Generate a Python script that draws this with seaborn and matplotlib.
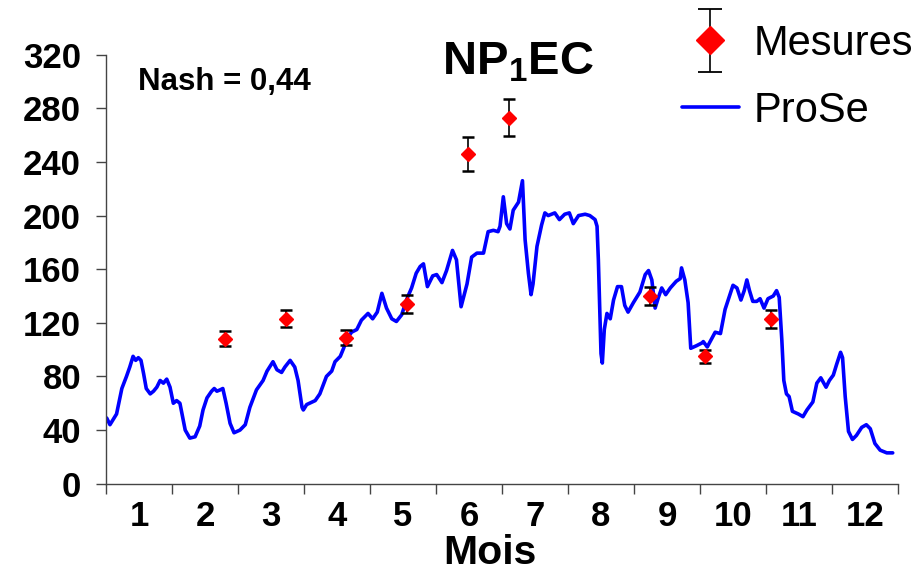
import numpy as np
import pandas as pd
import matplotlib
matplotlib.use("Agg")
import matplotlib.pyplot as plt
import seaborn as sns
from matplotlib.legend_handler import HandlerErrorbar
from matplotlib.lines import Line2D
from matplotlib.container import ErrorbarContainer

# ---------------- data ----------------
mois_labels = [str(i) for i in range(1, 13)]

prose_mois = [0.01, 0.06, 0.16, 0.24, 0.31, 0.36, 0.41, 0.45, 0.49, 0.53, 0.57, 0.61, 0.67, 0.72,
              0.77, 0.82, 0.87, 0.92, 0.97, 1.02, 1.07, 1.12, 1.20, 1.27, 1.35, 1.42, 1.47, 1.53,
              1.60, 1.64, 1.68, 1.73, 1.77, 1.82, 1.88, 1.94, 2.03, 2.11, 2.18, 2.28, 2.38, 2.44,
              2.53, 2.59, 2.66, 2.71, 2.79, 2.86, 2.91, 2.97, 2.99, 3.04, 3.17, 3.24, 3.34, 3.42,
              3.47, 3.55, 3.60, 3.65, 3.72, 3.80, 3.87, 3.97, 4.04, 4.11, 4.18, 4.25, 4.33, 4.40,
              4.48, 4.56, 4.63, 4.70, 4.76, 4.81, 4.87, 4.95, 5.01, 5.09, 5.16, 5.25, 5.31, 5.38,
              5.47, 5.54, 5.62, 5.72, 5.79, 5.87, 5.94, 5.97, 6.02, 6.07, 6.12, 6.17, 6.25, 6.31,
              6.35, 6.40, 6.44, 6.47, 6.53, 6.60, 6.65, 6.70, 6.80, 6.87, 6.95, 7.02, 7.08, 7.16,
              7.26, 7.33, 7.41, 7.44, 7.46, 7.50, 7.52, 7.55, 7.59, 7.64, 7.69, 7.75, 7.81, 7.86,
              7.91, 7.99, 8.09, 8.17, 8.22, 8.27, 8.32, 8.37, 8.42, 8.48, 8.55, 8.64, 8.70, 8.72,
              8.77, 8.82, 8.86, 8.95, 9.03, 9.05, 9.11, 9.23, 9.31, 9.38, 9.50, 9.56, 9.62, 9.67,
              9.71, 9.75, 9.80, 9.86, 9.91, 9.97, 10.03, 10.11, 10.16, 10.20, 10.24, 10.27, 10.31,
              10.35, 10.40, 10.49, 10.56, 10.62, 10.71, 10.77, 10.83, 10.91, 10.96, 11.02, 11.07,
              11.13, 11.16, 11.20, 11.25, 11.31, 11.37, 11.45, 11.52, 11.58, 11.65, 11.73, 11.83,
              11.92]
prose_debit = [49, 44, 52, 71, 80, 87, 95, 92, 94, 92, 82, 71, 67, 69,
               72, 77, 75, 78, 72, 60, 62, 60, 40, 34, 35, 43, 55, 64,
               69, 71, 69, 70, 71, 60, 45, 38, 40, 44, 57, 70, 77, 84,
               91, 85, 83, 87, 92, 87, 77, 57, 55, 59, 62, 67, 80, 84,
               91, 95, 101, 108, 113, 115, 122, 127, 123, 128, 142, 131, 123, 121,
               126, 138, 146, 157, 162, 164, 147, 155, 156, 150, 159, 174, 167, 132,
               149, 169, 172, 172, 188, 189, 188, 192, 214, 194, 190, 204, 210, 226,
               182, 157, 141, 149, 177, 193, 202, 200, 202, 197, 201, 202, 194, 200,
               201, 200, 197, 192, 167, 97, 90, 115, 127, 123, 137, 147, 147, 133,
               128, 135, 143, 156, 159, 152, 131, 139, 146, 141, 146, 151, 153, 161,
               152, 135, 101, 103, 105, 106, 102, 113, 112, 130, 148, 146, 137, 144,
               152, 144, 136, 136, 138, 131, 138, 140, 144, 139, 107, 77, 67,
               65, 54, 52, 50, 55, 61, 75, 79, 72, 77, 81, 89,
               98, 94, 65, 39, 33, 36, 42, 44, 41, 30, 25, 23,
               23]

mesures_mois = [1.80, 2.73, 3.64, 4.56, 5.49, 6.10, 8.24, 9.08, 10.07]
mesures_debit = [108, 123, 109, 134, 246, 273, 140, 95, 123]
mesures_err = [5.6, 6.3, 5.9, 6.6, 12.8, 13.9, 6.9, 4.6, 6.5]

# ---------------- style ----------------
sns.set_theme(style="ticks")
plt.rcParams["font.family"] = ["Liberation Sans", "DejaVu Sans"]
plt.rcParams["mathtext.fontset"] = "custom"
plt.rcParams["mathtext.rm"] = "Liberation Sans:bold"
plt.rcParams["mathtext.bf"] = "Liberation Sans:bold"

fig = plt.figure(figsize=(9.17, 5.74), dpi=100)
ax = fig.add_axes([106 / 917, 1 - 483.7 / 574, 792 / 917, 429 / 574])

df = pd.DataFrame({"Mois": prose_mois, "Debit": prose_debit})
sns.lineplot(data=df, x="Mois", y="Debit", ax=ax, color="#0000FF", linewidth=2.6,
             estimator=None, sort=False, legend=False)
line = ax.get_lines()[0]
line.set_solid_joinstyle("round")

eb = ax.errorbar(mesures_mois, mesures_debit, yerr=mesures_err, fmt="D", color="#FF0000",
                 mec="#FF0000", ms=7.0, ecolor="black", elinewidth=1.2, capsize=4,
                 capthick=1.8, zorder=5)

ax.set_xlim(0, 12)
ax.set_ylim(0, 320)
ax.set_xticks(range(13))
ax.set_xticklabels([])
ax.set_xticks(np.arange(0.5, 12, 1), minor=True)
ax.set_xticklabels(mois_labels, minor=True)
ax.set_yticks(range(0, 321, 40))

ax.tick_params(axis="x", which="minor", length=0, pad=12, labelsize=25)
ax.tick_params(axis="x", which="major", length=7, width=1, color="#444444", direction="out")
ax.tick_params(axis="y", length=7, width=1, color="#444444", direction="out", pad=11, labelsize=25)
for lab in ax.get_xticklabels(minor=True) + ax.get_yticklabels():
    lab.set_fontweight("bold")
    lab.set_color("black")

for s in ["top", "right"]:
    ax.spines[s].set_visible(False)
for s in ["left", "bottom"]:
    ax.spines[s].set_color("#444444")
    ax.spines[s].set_linewidth(1)

ax.set_xlabel("Mois", fontsize=29.5, fontweight="bold", color="black")
ax.set_ylabel("")
ax.xaxis.label.set_va("baseline")
ax.xaxis.set_label_coords((490 - 106) / 792, (483.7 - 564) / 429)

fig.text(518 / 917, 1 - 75 / 574, r"$\mathrm{NP_1EC}$", ha="center", va="baseline",
         fontsize=34, color="black")
fig.text(138 / 917, 1 - 90 / 574, "Nash = 0,44", ha="left", va="baseline",
         fontsize=22.5, fontweight="bold", color="black")


class CapHandler(HandlerErrorbar):
    def create_artists(self, *args, **kwargs):
        arts = super().create_artists(*args, **kwargs)
        for a in arts:
            if isinstance(a, Line2D) and a.get_marker() in ("_", "|"):
                a.set_markersize(17)
                a.set_markeredgewidth(1.3)
        return arts


leg = ax.legend(handles=[eb, line], labels=["Mesures", "ProSe"],
                handler_map={ErrorbarContainer: CapHandler(yerr_size=0.75)},
                loc="upper left", bbox_to_anchor=(681.5 / 917, 1 - 24 / 574),
                bbox_transform=fig.transFigure, frameon=False, fontsize=30,
                markerscale=2, handlelength=1.37, handletextpad=0.35,
                labelspacing=0.65, borderpad=0, borderaxespad=0)
for t in leg.get_texts():
    t.set_color("black")

fig.savefig("out.png", dpi=100)
